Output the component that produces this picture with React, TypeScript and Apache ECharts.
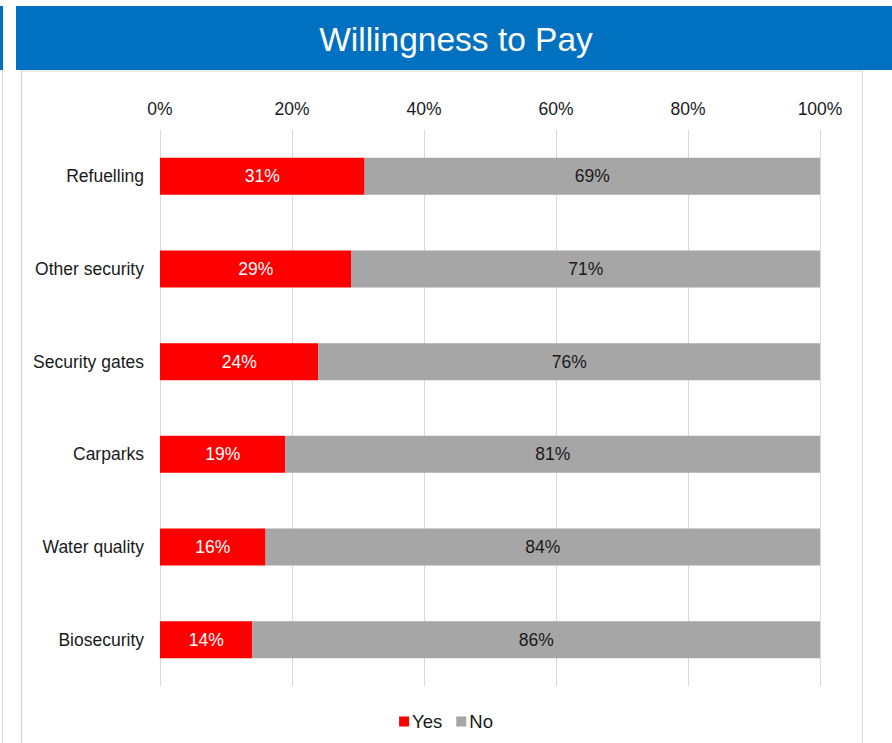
import React, { useEffect, useRef } from "react";
import * as echarts from "echarts";

const categories = [
  "Refuelling",
  "Other security",
  "Security gates",
  "Carparks",
  "Water quality",
  "Biosecurity",
];
const yesValues = [31, 29, 24, 19, 16, 14];
const noValues = [69, 71, 76, 81, 84, 86];
const title = "Willingness to Pay";

const FONT = "'Liberation Sans', Arial, sans-serif";
const TEXT = "#1a1a1a";

export default function App() {
  const ref = useRef<HTMLDivElement>(null);

  useEffect(() => {
    document.body.style.margin = "0";
    if (!ref.current) return;
    const chart = echarts.init(ref.current, null, { renderer: "svg" });
    const border = "#d9d9d9";
    chart.setOption({
      animation: false,
      backgroundColor: "#ffffff",
      textStyle: { fontFamily: FONT },
      graphic: [
        { type: "rect", shape: { x: 0, y: 6, width: 3, height: 64 }, style: { fill: "#0070C0" } },
        { type: "rect", shape: { x: 16, y: 6, width: 876, height: 64 }, style: { fill: "#0070C0" } },
        { type: "line", shape: { x1: 2.5, y1: 70, x2: 2.5, y2: 743 }, style: { stroke: border, lineWidth: 1 } },
        { type: "line", shape: { x1: 21.5, y1: 70, x2: 21.5, y2: 743 }, style: { stroke: border, lineWidth: 1.5 } },
        { type: "line", shape: { x1: 862.5, y1: 70, x2: 862.5, y2: 743 }, style: { stroke: border, lineWidth: 1 } },
        { type: "line", shape: { x1: 21, y1: 71, x2: 862, y2: 71 }, style: { stroke: border, lineWidth: 1 } },
        {
          type: "text",
          x: 456,
          y: 39,
          style: {
            text: title,
            fill: "#ffffff",
            fontSize: 33.5,
            fontFamily: FONT,
            align: "center",
            verticalAlign: "middle",
          },
        },
      ],
      legend: {
        bottom: 7,
        left: "center",
        itemWidth: 10,
        itemHeight: 10,
        itemGap: 14,
        icon: "rect",
        textStyle: { fontSize: 18.5, color: TEXT, fontFamily: FONT, padding: [0, 0, 0, -2] },
        data: ["Yes", "No"],
      },
      grid: { left: 160, right: 72, top: 130, bottom: 57, containLabel: false },
      xAxis: {
        type: "value",
        position: "top",
        min: 0,
        max: 100,
        interval: 20,
        axisLine: { show: false },
        axisTick: { show: false },
        axisLabel: {
          formatter: "{value}%",
          fontSize: 17.5,
          color: TEXT,
          fontFamily: FONT,
          margin: 12,
        },
        splitLine: { show: true, lineStyle: { color: border, width: 1 } },
      },
      yAxis: {
        type: "category",
        inverse: true,
        data: categories,
        axisLine: { show: false },
        axisTick: { show: false },
        axisLabel: { fontSize: 17.5, color: TEXT, fontFamily: FONT, margin: 16 },
      },
      series: [
        {
          name: "Yes",
          type: "bar",
          stack: "total",
          barWidth: 37,
          data: yesValues,
          itemStyle: { color: "#FF0000" },
          label: {
            show: true,
            position: "inside",
            formatter: "{c}%",
            color: "#ffffff",
            fontSize: 17.5,
            fontFamily: FONT,
          },
        },
        {
          name: "No",
          type: "bar",
          stack: "total",
          barWidth: 37,
          data: noValues,
          itemStyle: { color: "#A6A6A6" },
          label: {
            show: true,
            position: "inside",
            formatter: "{c}%",
            color: TEXT,
            fontSize: 17.5,
            fontFamily: FONT,
          },
        },
      ],
    });
    return () => chart.dispose();
  }, []);

  return <div ref={ref} style={{ width: 892, height: 743 }} />;
}
